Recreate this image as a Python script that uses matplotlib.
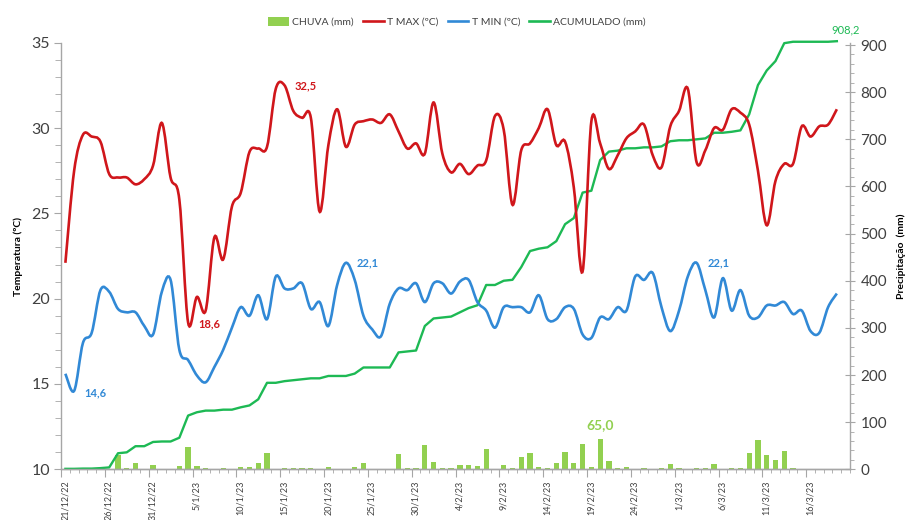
import numpy as np
import matplotlib
matplotlib.use("Agg")
import matplotlib.pyplot as plt
from matplotlib.path import Path
from matplotlib.patches import PathPatch, Patch
from matplotlib.lines import Line2D
from matplotlib.transforms import ScaledTranslation

plt.rcParams['font.family'] = ['Lato', 'DejaVu Sans']

# ---------------- data (daily, 21/12/22 .. 19/3/23) ----------------
n_categories = 90
t_max = [22.1, 27.5, 29.6, 29.5, 29.2, 27.3, 27.1, 27.1, 26.7, 27.0,
         27.8, 30.3, 27.1, 25.8, 18.6, 20.1, 19.3, 23.6, 22.3, 25.4,
         26.2, 28.6, 28.8, 28.9, 32.3, 32.5, 31.0, 30.6, 30.6, 25.1,
         29.0, 31.1, 28.9, 30.2, 30.4, 30.5, 30.3, 30.8, 29.8, 28.8,
         29.1, 28.5, 31.5, 28.5, 27.4, 27.9, 27.3, 27.8, 28.1, 30.7,
         29.9, 25.5, 28.7, 29.1, 30.0, 31.1, 29.0, 29.2, 26.5, 21.6,
         30.4, 29.1, 27.6, 28.4, 29.4, 29.8, 30.2, 28.4, 27.7, 30.1,
         31.0, 32.3, 28.0, 28.7, 30.0, 29.9, 31.1, 30.9, 30.2, 27.5,
         24.3, 26.9, 27.9, 27.9, 30.1, 29.5, 30.1, 30.2, 31.1]
t_min = [15.6, 14.6, 17.4, 18.0, 20.5, 20.4, 19.4, 19.2, 19.2, 18.4,
         17.9, 20.4, 21.1, 17.0, 16.4, 15.5, 15.1, 16.0, 17.0, 18.3,
         19.5, 19.0, 20.2, 18.8, 21.3, 20.6, 20.6, 20.9, 19.4, 19.8,
         18.4, 20.8, 22.1, 21.1, 19.0, 18.2, 17.8, 19.7, 20.6, 20.5,
         20.9, 19.8, 20.9, 20.9, 20.3, 21.0, 21.1, 19.8, 19.3, 18.3,
         19.5, 19.5, 19.5, 19.2, 20.2, 18.8, 18.8, 19.5, 19.4, 17.9,
         17.7, 18.9, 18.8, 19.5, 19.3, 21.3, 21.1, 21.5, 19.5, 18.1,
         19.3, 21.3, 22.1, 20.5, 18.9, 21.2, 19.3, 20.5, 19.0, 18.9,
         19.6, 19.6, 19.8, 19.1, 19.3, 18.1, 18.0, 19.5, 20.3]
chuva = [1.0, 0, 0.5, 0, 1.0, 1.5, 30, 2, 13, 0,
         9, 1, 0, 8, 47, 7, 3.5, 0, 2, 0,
         5, 4, 13, 35, 0, 3.5, 2, 2, 2, 0,
         5, 0, 0, 5, 13, 0, 0, 0, 32, 2,
         2, 52, 16, 2, 2, 9, 9, 6, 43, 0,
         9, 2, 27, 34, 5, 3, 13, 36, 13, 54,
         4, 65, 18, 2, 5, 0, 2, 0, 2, 11,
         2, 0, 2, 2, 12, 0, 2, 3, 34, 62,
         31, 20, 38, 3, 0, 0, 0, 0, 1.2]
tick_labels = ["21/12/22", "26/12/22", "31/12/22", "5/1/23", "10/1/23", "15/1/23",
               "20/1/23", "25/1/23", "30/1/23", "4/2/23", "9/2/23", "14/2/23",
               "19/2/23", "24/2/23", "1/3/23", "6/3/23", "11/3/23", "16/3/23"]

days = np.arange(len(t_max))
acumulado = np.cumsum(chuva)

# ---------------- styling ----------------
RED = "#D0161B"
BLUE = "#3189D6"
GREEN_LINE = "#1DB954"
GREEN_BAR = "#92D050"
TXT = "#404040"
AXC = "#A6A6A6"


def smooth_path(x, y):
    pts = np.column_stack([x, y]).astype(float)
    verts = [pts[0]]
    codes = [Path.MOVETO]
    n = len(pts)
    for i in range(n - 1):
        p0 = pts[i - 1] if i > 0 else pts[i]
        p1, p2 = pts[i], pts[i + 1]
        p3 = pts[i + 2] if i + 2 < n else pts[i + 1]
        verts += [p1 + (p2 - p0) / 6.0, p2 - (p3 - p1) / 6.0, p2]
        codes += [Path.CURVE4] * 3
    return Path(verts, codes)


fig = plt.figure(figsize=(9.09, 5.20), dpi=100)
ax = fig.add_axes([61 / 909, 50.7 / 520, (850 - 61) / 909, (469.3 - 42.7) / 520])
ax2 = ax.twinx()
ax.set_zorder(ax2.get_zorder() + 1)
ax.patch.set_visible(False)

# rain bars + accumulated (right axis)
ax2.bar(days, chuva, width=0.6, color=GREEN_BAR, zorder=2)
ax2.plot(days, acumulado, color=GREEN_LINE, lw=1.7, zorder=3, solid_joinstyle='round',
         clip_on=False)
ax2.set_ylim(0, 905)

# temperatures (left axis), smoothed lines
ax.add_patch(PathPatch(smooth_path(days, t_max), facecolor='none', edgecolor=RED, lw=1.9, zorder=4))
ax.add_patch(PathPatch(smooth_path(days, t_min), facecolor='none', edgecolor=BLUE, lw=1.9, zorder=4))
ax.set_ylim(10, 35)
ax.set_xlim(-0.5, n_categories - 0.5)

# spines
for a in (ax, ax2):
    a.spines['top'].set_visible(False)
    for s in ('left', 'right', 'bottom'):
        a.spines[s].set_color(AXC)
        a.spines[s].set_linewidth(1.0)
ax.spines['right'].set_visible(False)
ax2.spines['left'].set_visible(False)

# left axis ticks
ax.set_yticks(np.arange(10, 36, 5))
ax.set_yticks(np.arange(10, 36, 1), minor=True)
ax.tick_params(axis='y', which='major', labelsize=11.5, labelcolor=TXT, color=AXC, length=5, pad=3)
ax.tick_params(axis='y', which='minor', color=AXC, length=4)

# right axis ticks
ax2.set_yticks(np.arange(0, 901, 100))
ax2.set_yticks(np.arange(0, 901, 20), minor=True)
ax2.tick_params(axis='y', which='major', labelsize=11, labelcolor=TXT, color=AXC,
                length=7, direction='inout', pad=4)
ax2.tick_params(axis='y', which='minor', color=AXC, length=3, direction='out')

# x ticks: boundaries between categories, labels shifted to category centre
ax.set_xticks(np.arange(0, 5 * len(tick_labels), 5) - 0.5)
ax.set_xticklabels(tick_labels, rotation=90)
ax.set_xticks(np.arange(n_categories + 1) - 0.5, minor=True)
ax.tick_params(axis='x', which='major', labelsize=6.5, labelcolor=TXT, color=AXC, length=6, pad=2)
ax.tick_params(axis='x', which='minor', color=AXC, length=3)
shift = ScaledTranslation(3.0 / 72, 0, fig.dpi_scale_trans)
for lab in ax.get_xticklabels():
    lab.set_transform(lab.get_transform() + shift)

# axis titles
ax.set_ylabel("Temperatura (ºC)", fontsize=7.5, fontweight='bold', color='black', labelpad=6)
ax2.set_ylabel("Precipitação  (mm)", fontsize=7.5, fontweight='bold', color='black', labelpad=7)

# data labels
lab_kw = dict(textcoords='offset points', ha='center', va='center', fontsize=8, fontweight='bold')
ax.annotate("32,5", xy=(25, t_max[25]), xytext=(15, 0), color=RED, **lab_kw)
ax.annotate("18,6", xy=(14, t_max[14]), xytext=(15, -1), color=RED, **lab_kw)
ax.annotate("14,6", xy=(1, t_min[1]), xytext=(15, -1.5), color=BLUE, **lab_kw)
ax.annotate("22,1", xy=(32, t_min[32]), xytext=(16, 0), color=BLUE, **lab_kw)
ax.annotate("22,1", xy=(72, t_min[72]), xytext=(16, 0), color=BLUE, **lab_kw)
ax2.annotate("65,0", xy=(61, chuva[61]), xytext=(0, 10), textcoords='offset points',
             ha='center', va='center', fontsize=10, fontweight='bold', color=GREEN_BAR)
ax2.annotate("908,2", xy=(days[-1], acumulado[-1]), xytext=(6, 8), textcoords='offset points',
             ha='center', va='center', fontsize=8, color=GREEN_LINE, annotation_clip=False)

# legend
handles = [Patch(facecolor=GREEN_BAR, edgecolor='none'),
           Line2D([], [], color=RED, lw=1.9),
           Line2D([], [], color=BLUE, lw=1.9),
           Line2D([], [], color=GREEN_LINE, lw=1.9)]
labels = ["CHUVA (mm)", "T MAX (ºC)", "T MIN (ºC)", "ACUMULADO (mm)"]
fig.legend(handles, labels, loc='center', bbox_to_anchor=(457 / 909, 1 - 22 / 520), ncol=4,
           frameon=False, fontsize=7.5, handlelength=2.0, handleheight=0.9, handletextpad=0.3,
           columnspacing=0.9, labelcolor=TXT)

fig.savefig("out.png", dpi=100)
